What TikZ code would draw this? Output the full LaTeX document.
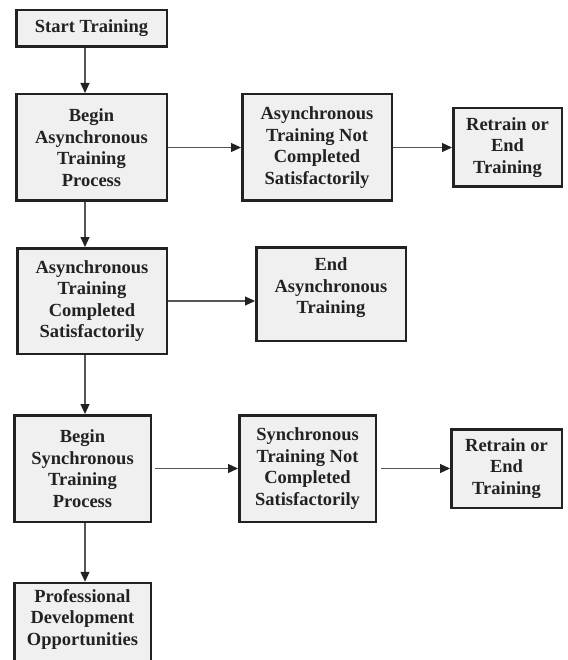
\documentclass[tikz,border=0pt]{standalone}
\usepackage{fontspec}
\setmainfont{Liberation Serif}
\usetikzlibrary{arrows.meta}
\definecolor{boxfill}{HTML}{F0F0F0}
\definecolor{boxline}{HTML}{222222}
\definecolor{conline}{HTML}{555555}
\tikzset{
  box/.style={draw=boxline, line width=2.5pt, fill=boxfill, align=center,
    inner sep=0pt, font=\fontsize{18.5}{21.5}\selectfont\bfseries, text=boxline},
  txt/.style={align=center, inner sep=0pt,
    font=\fontsize{18.5}{21.5}\selectfont\bfseries, text=boxline},
  con/.style={draw=conline, line width=1.2pt,
    -{Triangle[length=10pt,width=9pt,color=boxline]}}
}
\begin{document}
\begin{tikzpicture}[x=1pt,y=-1pt]
\useasboundingbox (0,0) rectangle (567,660);
\clip (0,0) rectangle (567,660);
\fill[white] (0,0) rectangle (567,660);
\coordinate (vx) at (85,0);

\node[box, minimum width=150.5pt, minimum height=36.5pt] (start) at (91.5,28.5) {Start Training};
\node[box, minimum width=150.5pt, minimum height=106.5pt] (bega) at (91.5,147.5) {Begin\\Asynchronous\\Training\\Process};
\node[box, minimum width=149.5pt, minimum height=106.5pt] (anot) at (317,147.5) {Asynchronous\\Training Not\\Completed\\Satisfactorily};
\node[box, minimum width=108.5pt, minimum height=78.5pt] (ret1) at (507.5,147.5) {Retrain or\\End\\Training};
\node[box, minimum width=149.5pt, minimum height=105.5pt] (acomp) at (92,301) {Asynchronous\\Training\\Completed\\Satisfactorily};
\node[box, minimum width=149.5pt, minimum height=93.5pt] (enda) at (331,294) {};
\node[txt] (endat) at (331,288) {End\\Asynchronous\\Training};
\node[box, minimum width=136.5pt, minimum height=106.5pt] (begs) at (82.5,468.5) {Begin\\Synchronous\\Training\\Process};
\node[box, minimum width=136.5pt, minimum height=106.5pt] (snot) at (307.5,468.5) {Synchronous\\Training Not\\Completed\\Satisfactorily};
\node[box, minimum width=110.5pt, minimum height=78.5pt] (ret2) at (506.5,468.5) {Retrain or\\End\\Training};
\node[box, minimum width=136.5pt, minimum height=82pt] (prof) at (82.5,624) {};
\node[txt] (proft) at (82.5,619) {Professional\\Development\\Opportunities};

\draw[con] (start.south -| vx) -- (bega.north -| vx);
\draw[con] (bega.east) -- (anot.west);
\draw[con] (anot.east) -- (ret1.west);
\draw[con] (bega.south -| vx) -- (acomp.north -| vx);
\draw[con] (acomp.east) -- (acomp.east -| enda.west);
\draw[con] (acomp.south -| vx) -- (begs.north -| vx);
\draw[con, shorten <=3pt] (begs.east) -- (snot.west);
\draw[con, shorten <=4pt] (snot.east) -- (ret2.west);
\draw[con] (begs.south -| vx) -- (prof.north -| vx);
\end{tikzpicture}
\end{document}
